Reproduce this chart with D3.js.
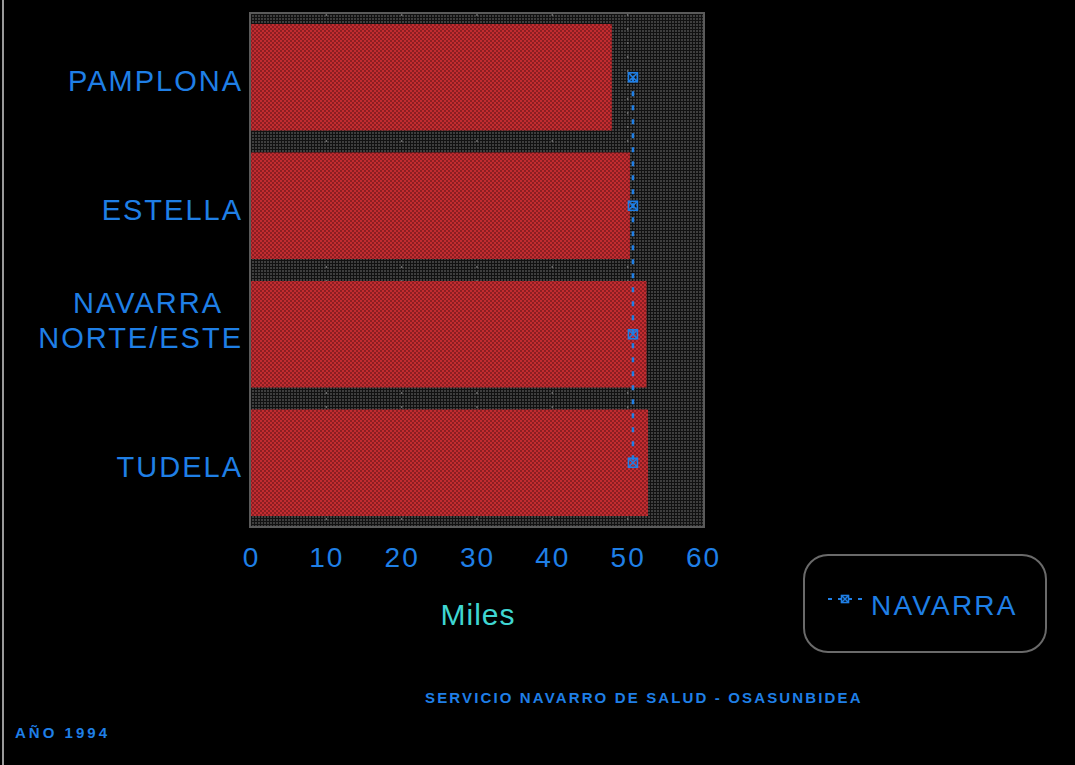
<!DOCTYPE html>
<html>
<head>
<meta charset="utf-8">
<script src="https://cdn.jsdelivr.net/npm/d3@7"></script>
<style>
  html, body { margin: 0; padding: 0; background: #000; }
  svg { display: block; }
</style>
</head>
<body>
<svg id="chart" width="1075" height="765"></svg>
<script>
// Population by health area (thousands), 1994
const areas = ["PAMPLONA", "ESTELLA", "NAVARRA\nNORTE/ESTE", "TUDELA"];
const areaValues = [47.9, 50.3, 52.5, 52.7];
// Navarra reference value, repeated for each area
const navarraValues = [50.7, 50.7, 50.7, 50.7];
const xTicks = [0, 10, 20, 30, 40, 50, 60];

const svg = d3.select("#chart");
const blue = "#1f7fe6";

// thin light strip on the left edge
svg.append("rect").attr("x", 2).attr("y", 0).attr("width", 2).attr("height", 765).attr("fill", "#9a9a9a");

const defs = svg.append("defs");
// dotted dark background of the plot area
const bgPat = defs.append("pattern").attr("id", "dots").attr("patternUnits", "userSpaceOnUse")
  .attr("width", 3).attr("height", 3);
bgPat.append("rect").attr("width", 3).attr("height", 3).attr("fill", "#111");
bgPat.append("rect").attr("width", 2).attr("height", 2).attr("fill", "#3e3e3e");
// red checkered bar fill
const barPat = defs.append("pattern").attr("id", "redcheck").attr("patternUnits", "userSpaceOnUse")
  .attr("width", 4).attr("height", 4);
barPat.append("rect").attr("width", 4).attr("height", 4).attr("fill", "#8c1e22");
barPat.append("rect").attr("width", 2).attr("height", 2).attr("fill", "#c22c30");
barPat.append("rect").attr("x", 2).attr("y", 2).attr("width", 2).attr("height", 2).attr("fill", "#c22c30");

const x = d3.scaleLinear().domain([0, 60]).range([251, 703]);
const y = d3.scaleBand().domain(areas).range([13, 527]).paddingInner(0.171).paddingOuter(0.0855);

// plot frame
svg.append("rect").attr("x", 250).attr("y", 13).attr("width", 454).attr("height", 514)
  .attr("fill", "url(#dots)").attr("stroke", "#5a5a5a").attr("stroke-width", 2);

// vertical grid lines
svg.append("g").selectAll("line").data(xTicks.slice(1, -1)).join("line")
  .attr("x1", d => x(d)).attr("x2", d => x(d)).attr("y1", 14).attr("y2", 526)
  .attr("stroke", "#6a6a6a").attr("stroke-width", 1.5).attr("stroke-dasharray", "2,12");

// bars
svg.append("g").selectAll("rect").data(areas).join("rect")
  .attr("x", x(0)).attr("y", d => y(d))
  .attr("width", (d, i) => x(areaValues[i]) - x(0))
  .attr("height", y.bandwidth())
  .attr("fill", "url(#redcheck)");

// Navarra reference line
const cy = d => y(d) + y.bandwidth() / 2;
const line = d3.line().x((d, i) => x(navarraValues[i])).y(d => cy(d));
svg.append("path").datum(areas).attr("d", line)
  .attr("fill", "none").attr("stroke", blue).attr("stroke-width", 2.5).attr("stroke-dasharray", "5,9");

function marker(g, cx, cyv, s) {
  g.append("rect").attr("x", cx - s / 2).attr("y", cyv - s / 2).attr("width", s).attr("height", s)
    .attr("fill", "none").attr("stroke", blue).attr("stroke-width", 1.6);
  g.append("path").attr("d", `M${cx - s / 2},${cyv - s / 2}L${cx + s / 2},${cyv + s / 2}M${cx + s / 2},${cyv - s / 2}L${cx - s / 2},${cyv + s / 2}`)
    .attr("stroke", blue).attr("stroke-width", 1.6);
}
const mg = svg.append("g");
areas.forEach((a, i) => marker(mg, x(navarraValues[i]), cy(a), 9));

// category labels
const font = "'Liberation Sans', Arial, sans-serif";
const yl = svg.append("g");
areas.forEach(a => {
  const lines = a.split("\n");
  const t = yl.append("text").attr("x", 243).attr("text-anchor", "end")
    .attr("fill", blue).attr("font-family", font).attr("font-size", 29).attr("letter-spacing", 2);
  const base = cy(a) + 14 - (lines.length - 1) * 35;
  lines.forEach((l, k) => t.append("tspan").attr("x", lines.length > 1 && k === 0 ? 223 : 243).attr("y", base + k * 35).text(l));
});

// x axis tick labels
const xAxis = d3.axisBottom(x).tickValues(xTicks).tickSize(0).tickPadding(0);
const ax = svg.append("g").attr("transform", "translate(0,567)").call(xAxis);
ax.select(".domain").remove();
ax.selectAll("text").attr("fill", blue).attr("font-family", font).attr("font-size", 28)
  .attr("dy", 0).attr("letter-spacing", 2);

// axis title
svg.append("text").attr("x", 478).attr("y", 625).attr("text-anchor", "middle")
  .attr("fill", "#3fd6d2").attr("font-family", font).attr("font-size", 30).attr("letter-spacing", 1)
  .text("Miles");

// legend
svg.append("rect").attr("x", 804).attr("y", 555).attr("width", 242).attr("height", 97).attr("rx", 24)
  .attr("fill", "none").attr("stroke", "#6a6a6a").attr("stroke-width", 2);
const lg = svg.append("g");
lg.append("line").attr("x1", 828).attr("x2", 862).attr("y1", 599).attr("y2", 599)
  .attr("stroke", blue).attr("stroke-width", 2).attr("stroke-dasharray", "4,6");
marker(lg, 845, 599, 7);
lg.append("text").attr("x", 871).attr("y", 615).attr("fill", blue).attr("font-family", font)
  .attr("font-size", 28).attr("letter-spacing", 2.2).text("NAVARRA");

// footer
svg.append("text").attr("x", 425).attr("y", 703).attr("fill", blue).attr("font-family", font)
  .attr("font-size", 15).attr("font-weight", "bold").attr("letter-spacing", 1.5)
  .attr("textLength", 437).attr("lengthAdjust", "spacing")
  .text("SERVICIO  NAVARRO  DE  SALUD  -  OSASUNBIDEA");
svg.append("text").attr("x", 15).attr("y", 738).attr("fill", blue).attr("font-family", font)
  .attr("font-size", 15).attr("font-weight", "bold")
  .attr("textLength", 92).attr("lengthAdjust", "spacing").text("AÑO  1994");
</script>
</body>
</html>
